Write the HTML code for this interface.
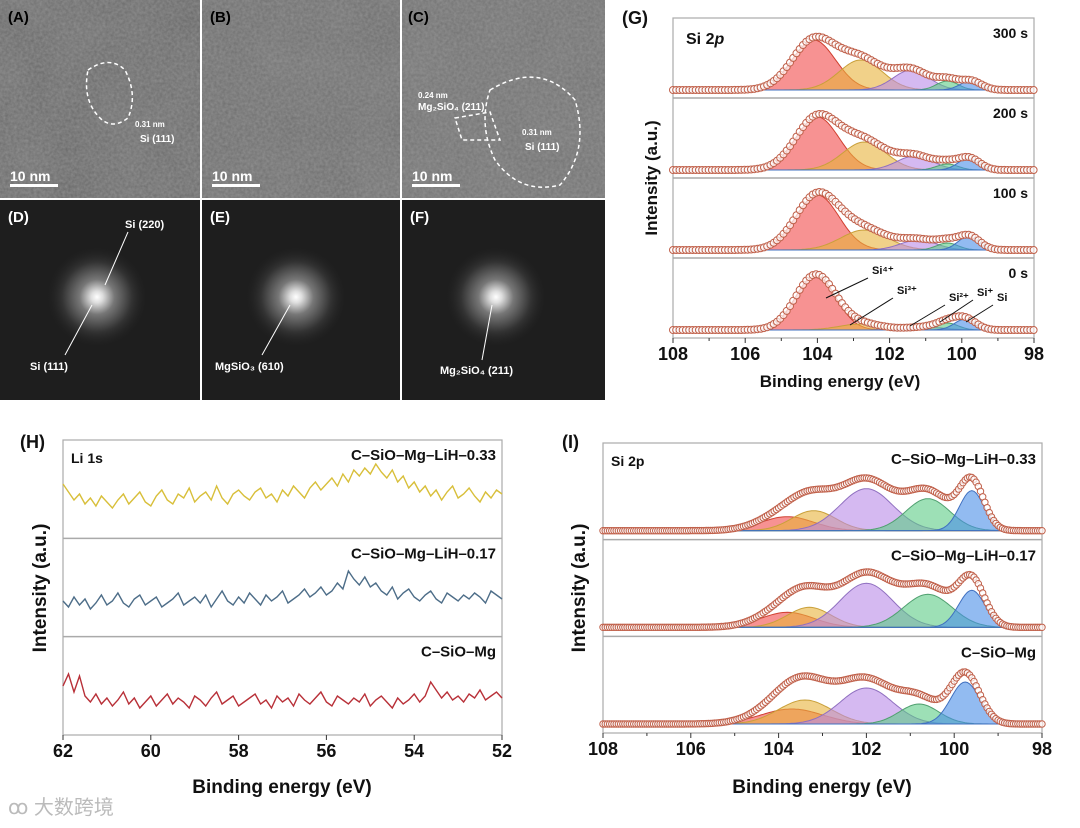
<!DOCTYPE html>
<html><head><meta charset="utf-8">
<style>
body{margin:0;background:#fff;}
svg{display:block;font-family:"Liberation Sans","Noto Sans CJK SC",sans-serif;}
</style></head>
<body>
<svg id="fig" width="1080" height="828" viewBox="0 0 1080 828">
<defs>
<filter id="noise" x="0" y="0" width="100%" height="100%">
<feTurbulence type="fractalNoise" baseFrequency="0.35" numOctaves="2" seed="3"/>
<feColorMatrix type="matrix" values="0 0 0 0 0.4  0 0 0 0 0.4  0 0 0 0 0.4  0 0 0 0.55 0"/>
</filter>
<filter id="blotch" x="0" y="0" width="100%" height="100%">
<feTurbulence type="fractalNoise" baseFrequency="0.02" numOctaves="2" seed="7"/>
<feColorMatrix type="matrix" values="0 0 0 0 0.2  0 0 0 0 0.2  0 0 0 0 0.2  0 0 0 0.8 -0.1"/>
</filter>
<radialGradient id="fft" cx="50%" cy="50%" r="50%">
<stop offset="0" stop-color="#fff"/><stop offset="0.12" stop-color="#ddd"/><stop offset="0.35" stop-color="#777"/><stop offset="0.7" stop-color="#333"/><stop offset="1" stop-color="#222" stop-opacity="0"/>
</radialGradient>
</defs>

<g>
<rect x="0" y="0" width="200" height="198" fill="#666"/><rect x="0" y="0" width="200" height="198" filter="url(#blotch)"/><rect x="0" y="0" width="200" height="198" filter="url(#noise)"/>
<path d="M88,70 Q110,55 125,70 Q138,95 128,118 Q112,130 100,118 Q82,100 88,70Z" fill="none" stroke="#fff" stroke-width="1.5" stroke-dasharray="4,3"/>
<text x="135" y="127" fill="#fff" font-size="8" font-weight="bold">0.31 nm</text>
<text x="140" y="142" fill="#fff" font-size="10" font-weight="bold">Si (111)</text>
<text x="8" y="22" fill="#000" font-size="15" font-weight="bold">(A)</text>
<rect x="10" y="184" width="48" height="3" fill="#fff"/><text x="10" y="181" fill="#fff" font-size="14" font-weight="bold">10 nm</text>
</g>
<g>
<rect x="202" y="0" width="198" height="198" fill="#6c6c6c"/><rect x="202" y="0" width="198" height="198" filter="url(#blotch)"/><rect x="202" y="0" width="198" height="198" filter="url(#noise)"/>
<text x="210" y="22" fill="#000" font-size="15" font-weight="bold">(B)</text>
<rect x="212" y="184" width="48" height="3" fill="#fff"/><text x="212" y="181" fill="#fff" font-size="14" font-weight="bold">10 nm</text>
</g>
<g>
<rect x="402" y="0" width="203" height="198" fill="#707070"/><rect x="402" y="0" width="203" height="198" filter="url(#blotch)"/><rect x="402" y="0" width="203" height="198" filter="url(#noise)"/>
<path d="M490,90 Q540,60 575,100 Q590,150 560,185 Q520,195 495,160 Q478,125 490,90Z" fill="none" stroke="#fff" stroke-width="1.5" stroke-dasharray="4,3"/>
<path d="M455,118 L490,112 L500,140 L462,140Z" fill="none" stroke="#fff" stroke-width="1.5" stroke-dasharray="4,3"/>
<text x="418" y="98" fill="#fff" font-size="8" font-weight="bold">0.24 nm</text>
<text x="418" y="110" fill="#fff" font-size="10" font-weight="bold">Mg₂SiO₄ (211)</text>
<text x="522" y="135" fill="#fff" font-size="8" font-weight="bold">0.31 nm</text>
<text x="525" y="150" fill="#fff" font-size="10" font-weight="bold">Si (111)</text>
<text x="408" y="22" fill="#000" font-size="15" font-weight="bold">(C)</text>
<rect x="412" y="184" width="48" height="3" fill="#fff"/><text x="412" y="181" fill="#fff" font-size="14" font-weight="bold">10 nm</text>
</g>
<g>
<rect x="0" y="200" width="200" height="200" fill="#1e1e1e"/><circle cx="97" cy="297" r="50" fill="url(#fft)"/>
<text x="8" y="222" fill="#fff" font-size="15" font-weight="bold">(D)</text>
<line x1="128" y1="232" x2="105" y2="285" stroke="#fff"/><text x="125" y="228" fill="#fff" font-size="11" font-weight="bold">Si (220)</text>
<line x1="65" y1="355" x2="92" y2="305" stroke="#fff"/><text x="30" y="370" fill="#fff" font-size="11" font-weight="bold">Si (111)</text>
</g>
<g>
<rect x="202" y="200" width="198" height="200" fill="#1e1e1e"/><circle cx="296" cy="297" r="50" fill="url(#fft)"/>
<text x="210" y="222" fill="#fff" font-size="15" font-weight="bold">(E)</text>
<line x1="262" y1="355" x2="290" y2="305" stroke="#fff"/><text x="215" y="370" fill="#fff" font-size="11" font-weight="bold">MgSiO₃ (610)</text>
</g>
<g>
<rect x="402" y="200" width="203" height="200" fill="#1e1e1e"/><circle cx="496" cy="297" r="50" fill="url(#fft)"/>
<text x="410" y="222" fill="#fff" font-size="15" font-weight="bold">(F)</text>
<line x1="482" y1="360" x2="492" y2="305" stroke="#fff"/><text x="440" y="374" fill="#fff" font-size="11" font-weight="bold">Mg₂SiO₄ (211)</text>
</g>

<g id="plots"></g>
<text x="8" y="814" fill="#bbb" font-size="20">ꝏ 大数跨境</text>
</svg>
<script>
const gLabels=["300 s","200 s","100 s","0 s"];
const gSi4=[[104.1,50,0.6],[104.0,53,0.6],[104.0,55,0.6],[104.05,55,0.55]];
const gSi3=[[102.8,30,0.6],[102.7,28,0.6],[102.7,20,0.65],[102.8,6,0.6]];
const gSi2=[[101.4,20,0.5],[101.3,14,0.5],[101.2,10,0.5],[101.0,3,0.5]];
const gSi1=[[100.4,9,0.3],[100.4,6,0.3],[100.4,7,0.3],[100.4,7,0.3]];
const gSi0=[[99.75,9,0.3],[99.8,12,0.3],[99.8,14,0.3],[99.9,11,0.3]];
const iLabels=["C–SiO–Mg–LiH–0.33","C–SiO–Mg–LiH–0.17","C–SiO–Mg"];
const iRed=[[103.8,14,0.6],[103.8,15,0.6],[103.7,15,0.7]];
const iOrange=[[103.2,20,0.5],[103.3,20,0.5],[103.4,24,0.6]];
const iPurple=[[102.0,42,0.6],[102.0,44,0.6],[102.0,36,0.6]];
const iGreen=[[100.6,32,0.5],[100.6,33,0.55],[100.8,20,0.45]];
const iBlue=[[99.6,40,0.28],[99.6,37,0.3],[99.75,42,0.33]];
const xTicksBE=[108,106,104,102,100,98];
const hLabels=["C–SiO–Mg–LiH–0.33","C–SiO–Mg–LiH–0.17","C–SiO–Mg"];
const hYellow=[28,20,12,18,8,14,6,16,10,4,12,18,8,14,20,10,6,16,22,12,8,18,14,24,10,16,20,12,26,14,8,18,22,16,12,20,24,14,18,10,22,16,26,20,14,24,30,22,28,34,26,38,30,42,36,44,38,48,40,34,42,30,36,24,30,20,26,16,22,12,20,26,14,18,24,16,10,20,14,22,18];
const hBlue=[12,6,16,8,14,4,10,18,8,12,20,10,6,14,18,8,12,16,6,10,14,20,8,12,16,10,18,6,14,22,12,8,16,10,20,14,8,18,12,16,22,10,14,18,24,16,20,26,18,22,30,24,42,34,28,36,26,30,22,18,26,14,20,24,16,12,18,22,14,10,20,16,12,18,14,20,16,10,22,18,14];
const hRed=[26,38,20,36,16,10,18,8,14,6,12,20,8,14,4,10,16,6,12,18,8,14,10,4,16,12,6,14,20,8,12,16,6,10,14,18,8,12,4,16,10,14,6,18,12,8,14,20,10,6,16,12,8,14,10,18,6,12,16,10,4,14,8,12,18,10,16,30,22,14,20,12,16,10,18,14,22,12,16,20,14];
const hTicks=[62,60,58,56,54,52];

const NS="http://www.w3.org/2000/svg";
const root=document.getElementById('plots');
function el(tag,attrs,parent){const e=document.createElementNS(NS,tag);for(const k in attrs)e.setAttribute(k,attrs[k]);(parent||root).appendChild(e);return e;}
function txt(x,y,s,size,extra,parent){const t=el('text',Object.assign({x:x,y:y,'font-size':size,'font-weight':'bold',fill:'#111'},extra||{}),parent);t.textContent=s;return t;}
function gauss(x,p){return p[1]*Math.exp(-((x-p[0])**2)/(2*p[2]*p[2]));}

function xpsPanel(cfg){
  const g=el('g',{});
  
  
  const sx=e=>cfg.x0+(108-e)/10*(cfg.x1-cfg.x0);
  el('rect',{x:cfg.x0,y:cfg.y0,width:cfg.x1-cfg.x0,height:cfg.y1-cfg.y0,fill:'none',stroke:'#aaa','stroke-width':1.2},g);
  const n=cfg.labels.length, h=(cfg.y1-cfg.y0)/n;
  for(let i=1;i<n;i++)el('line',{x1:cfg.x0,x2:cfg.x1,y1:cfg.y0+h*i,y2:cfg.y0+h*i,stroke:'#aaa','stroke-width':1.5},g);
  for(let i=0;i<n;i++){
    const base=cfg.y0+h*(i+1)-cfg.baseOff;
    const sub=el('g',{},g);
    
    
    if(cfg.band){el('rect',{x:cfg.x0+1,y:base,width:cfg.x1-cfg.x0-2,height:5,fill:'#f3dc8a',stroke:'#c9a43a','stroke-width':0.8},sub);}
    const comps=cfg.comps.map(c=>c[i]);
    comps.forEach((p,ci)=>{
      let d='M'+sx(108)+','+base;
      for(let e=108;e>=98;e-=0.05)d+=' L'+sx(e).toFixed(1)+','+(base-gauss(e,p)).toFixed(1);
      d+=' L'+sx(98)+','+base+'Z';
      const path=el('path',{d:d,fill:cfg.colors[ci],'fill-opacity':0.6,stroke:cfg.strokes[ci],'stroke-width':1},sub);
      
      
    });
    for(let e=108;e>=98;e-=cfg.step){
      let s=0;comps.forEach(p=>s+=gauss(e,p));
      const c=el('circle',{cx:sx(e).toFixed(1),cy:(base-s*cfg.env).toFixed(1),r:cfg.r,fill:'#fff','fill-opacity':0.7,stroke:'#c0604a','stroke-width':1},sub);
      
      
    }
    txt(cfg.x1-6,cfg.y0+h*i+cfg.labelDy,cfg.labels[i],cfg.labelSize,{'text-anchor':'end'},g);
  }
  xTicksBE.forEach(t=>{
    el('line',{x1:sx(t),x2:sx(t),y1:cfg.y1,y2:cfg.y1+5,stroke:'#333'},g);
    txt(sx(t),cfg.y1+22,String(t),18,{'text-anchor':'middle'},g);
  });
  for(let t=107;t>98;t-=2)el('line',{x1:sx(t),x2:sx(t),y1:cfg.y1,y2:cfg.y1+3,stroke:'#333'},g);
  return {g:g,sx:sx};
}
const fills=['#f24a4a','#e8b23a','#b98ae8','#5ccc86','#4a8de8'];
const strokes=['#d04030','#c9a03a','#9070c0','#50a070','#4070c0'];
const G=xpsPanel({name:'panel-g-si2p-depth',x0:673,x1:1034,y0:18,y1:338,labels:gLabels,comps:[gSi4,gSi3,gSi2,gSi1,gSi0],colors:fills,strokes:strokes,baseOff:8,env:1.0,step:0.09,r:3.5,labelDy:20,labelSize:14});
txt(686,44,'Si 2',16,{},G.g).innerHTML='Si 2<tspan font-style="italic">p</tspan>';
txt(622,24,'(G)',18,{},G.g);
txt(840,387,'Binding energy (eV)',17,{'text-anchor':'middle'},G.g);
txt(0,0,'Intensity (a.u.)',17,{'text-anchor':'middle',transform:'translate(657,178) rotate(-90)'},G.g);
[[104,'Si⁴⁺',826,298,868,278],[102.7,'Si³⁺',850,325,893,298],[101.0,'Si²⁺',910,326,945,305],[100.4,'Si⁺',940,322,973,300],[99.8,'Si',966,322,993,305]].forEach(a=>{
  el('line',{x1:a[2],y1:a[3],x2:a[4],y2:a[5],stroke:'#111','stroke-width':1},G.g);
  txt(a[4]+4,a[5]-4,a[1],11,{},G.g);
});

const I=xpsPanel({name:'panel-i-si2p-samples',x0:603,x1:1042,y0:443,y1:733,labels:iLabels,comps:[iRed,iOrange,iPurple,iGreen,iBlue],colors:fills,strokes:strokes,baseOff:9,env:1.2,step:0.05,r:3.2,labelDy:21,labelSize:15});
txt(611,466,'Si 2p',14,{},I.g);
txt(562,448,'(I)',18,{},I.g);
txt(822,793,'Binding energy (eV)',19,{'text-anchor':'middle'},I.g);
txt(0,0,'Intensity (a.u.)',19,{'text-anchor':'middle',transform:'translate(585,588) rotate(-90)'},I.g);

(function(){
  const x0=63,x1=502,y0=440,y1=735;
  const g=el('g',{});
  
  
  const sx=e=>x0+(62-e)/10*(x1-x0);
  el('rect',{x:x0,y:y0,width:x1-x0,height:y1-y0,fill:'none',stroke:'#aaa','stroke-width':1.2},g);
  const h=(y1-y0)/3;
  for(let i=1;i<3;i++)el('line',{x1:x0,x2:x1,y1:y0+h*i,y2:y0+h*i,stroke:'#aaa','stroke-width':1.5},g);
  const series=[hYellow,hBlue,hRed],cols=['#d8bf3a','#4d6d88','#b83038'],bases=[512,613,712];
  series.forEach((arr,i)=>{
    let d='';
    arr.forEach((v,j)=>{const e=62-j*10/(arr.length-1);d+=(j?' L':'M')+sx(e).toFixed(1)+','+(bases[i]-v).toFixed(1);});
    const p=el('path',{d:d,fill:'none',stroke:cols[i],'stroke-width':1.4},g);
    
    
    txt(x1-6,y0+h*i+20,hLabels[i],15,{'text-anchor':'end'},g);
  });
  hTicks.forEach(t=>{
    el('line',{x1:sx(t),x2:sx(t),y1:y1,y2:y1+5,stroke:'#333'},g);
    txt(sx(t),y1+22,String(t),18,{'text-anchor':'middle'},g);
  });
  txt(71,463,'Li 1s',14,{},g);
  txt(20,448,'(H)',18,{},g);
  txt(282,793,'Binding energy (eV)',19,{'text-anchor':'middle'},g);
  txt(0,0,'Intensity (a.u.)',19,{'text-anchor':'middle',transform:'translate(46,588) rotate(-90)'},g);
})();
</script>
</body></html>
